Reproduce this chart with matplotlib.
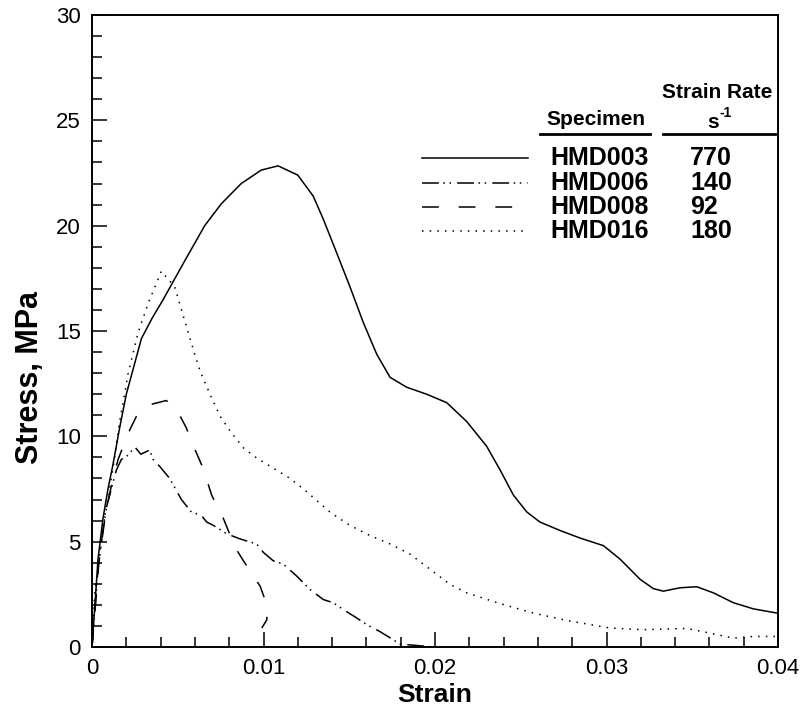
import matplotlib
matplotlib.use("Agg")
import matplotlib.pyplot as plt
from matplotlib.lines import Line2D

plt.rcParams['font.family'] = ['Liberation Sans', 'DejaVu Sans']

# data
hmd003_strain = [0, 0.00035, 0.00064, 0.00093, 0.00122, 0.00161, 0.002, 0.0025, 0.00288, 0.0035,
                 0.00414, 0.0054, 0.00657, 0.00754, 0.0087, 0.00987, 0.01085, 0.012, 0.0129, 0.01349,
                 0.01427, 0.01504, 0.01582, 0.0166, 0.01738, 0.01835, 0.01951, 0.02068, 0.02185, 0.02301,
                 0.02379, 0.02457, 0.02535, 0.02612, 0.02729, 0.02846, 0.02982, 0.03079, 0.03196, 0.03273,
                 0.03331, 0.03429, 0.03526, 0.03623, 0.0374, 0.03856, 0.04]
hmd003_stress = [0, 4.17, 6.1, 7.5, 8.65, 10.4, 12.0, 13.5, 14.64, 15.6,
                 16.48, 18.32, 20.0, 21.04, 22.0, 22.64, 22.84, 22.4, 21.4, 20.3,
                 18.7, 17.1, 15.4, 13.9, 12.8, 12.33, 12.0, 11.6, 10.7, 9.53,
                 8.41, 7.21, 6.41, 5.93, 5.53, 5.17, 4.81, 4.17, 3.21, 2.77,
                 2.65, 2.81, 2.86, 2.57, 2.1, 1.81, 1.6]

hmd006_strain = [0, 0.0004, 0.0008, 0.00142, 0.00171, 0.0021, 0.00249, 0.00285, 0.00336, 0.00356,
                 0.00395, 0.00453, 0.00521, 0.00579, 0.00637, 0.00669, 0.00708, 0.00786, 0.00863, 0.0096,
                 0.00999, 0.01057, 0.01116, 0.01193, 0.01271, 0.01349, 0.01407, 0.01466, 0.01543, 0.01602,
                 0.01679, 0.01757, 0.01796, 0.0199]
hmd006_stress = [0, 4.2, 6.5, 8.4, 8.9, 9.1, 9.5, 9.15, 9.35, 8.9,
                 8.57, 8.0, 7.0, 6.41, 6.25, 5.93, 5.77, 5.37, 5.13, 4.89,
                 4.49, 4.09, 3.93, 3.37, 2.73, 2.25, 2.1, 1.77, 1.38, 1.06,
                 0.73, 0.34, 0.14, 0.0]

hmd008_strain = [0, 0.0004, 0.0008, 0.00122, 0.00152, 0.0019, 0.0022, 0.00268, 0.00336, 0.00433,
                 0.00492, 0.0055, 0.00579, 0.00647, 0.00698, 0.00766, 0.00834, 0.00883, 0.00941, 0.0098,
                 0.01015, 0.0102, 0.0099]
hmd008_stress = [0, 4.0, 6.4, 8.0, 8.9, 9.7, 10.3, 11.1, 11.5, 11.7,
                 11.3, 10.4, 9.77, 8.5, 7.2, 6.1, 4.73, 4.09, 3.37, 2.89,
                 2.1, 1.3, 0.9]

hmd016_strain = [0, 0.00016, 0.00045, 0.00074, 0.00103, 0.00132, 0.00161, 0.0019, 0.0021, 0.00268,
                 0.00327, 0.00404, 0.00482, 0.0054, 0.00599, 0.0063, 0.00688, 0.00746, 0.00805, 0.00883,
                 0.0096, 0.01057, 0.01155, 0.01252, 0.01388, 0.01504, 0.01621, 0.01738, 0.01854, 0.01971,
                 0.02087, 0.02185, 0.02379, 0.02573, 0.02768, 0.0302, 0.03215, 0.03467, 0.03584, 0.0374,
                 0.03856, 0.04]
hmd016_stress = [0, 2.6, 4.3, 6.1, 7.5, 9.0, 10.7, 12.0, 12.96, 14.9,
                 16.3, 17.84, 17.1, 15.5, 13.9, 13.1, 12.0, 10.97, 10.25, 9.45,
                 8.97, 8.49, 8.0, 7.37, 6.4, 5.77, 5.29, 4.89, 4.41, 3.69,
                 2.97, 2.57, 2.06, 1.61, 1.26, 0.9, 0.82, 0.88, 0.69, 0.42,
                 0.5, 0.5]

specimens = ['HMD003', 'HMD006', 'HMD008', 'HMD016']
strain_rates = ['770', '140', '92', '180']
x_ticks = [0, 0.01, 0.02, 0.03, 0.04]
x_labels = ['0', '0.01', '0.02', '0.03', '0.04']
y_ticks = [0, 5, 10, 15, 20, 25, 30]

styles = ['-', (0, (11, 3, 1, 3, 1, 4)), (0, (11, 13)), (0, (1, 4))]
series = [(hmd003_strain, hmd003_stress), (hmd006_strain, hmd006_stress),
          (hmd008_strain, hmd008_stress), (hmd016_strain, hmd016_stress)]

fig = plt.figure(figsize=(8.05, 7.16), dpi=100)
ax = fig.add_axes([0.1143, 0.0964, 0.8522, 0.8826])

for (sx, sy), ls in zip(series, styles):
    ax.plot(sx, sy, color='black', lw=1.1, linestyle=ls)

ax.set_xlim(0, 0.04)
ax.set_ylim(0, 30)
ax.set_xticks(x_ticks)
ax.set_xticklabels(x_labels)
ax.set_yticks(y_ticks)
ax.set_xticks([i * 0.002 for i in range(21)], minor=True)
ax.set_yticks(list(range(31)), minor=True)
ax.tick_params(which='both', direction='in', top=False, right=False, width=1.1, labelsize=16)
ax.tick_params(which='major', length=11)
ax.tick_params(which='minor', length=7)
ax.tick_params(axis='x', pad=8)
ax.tick_params(axis='y', pad=8)
for sp in ax.spines.values():
    sp.set_linewidth(1.4)

ax.set_xlabel('Strain', fontsize=19, fontweight='bold', labelpad=3)
ax.set_ylabel('Stress, MPa', fontsize=22, fontweight='bold')
ax.yaxis.set_label_coords(-0.068, 0.426)

# table-style legend
row_y = [0.774, 0.734, 0.696, 0.658]
for yy, ls, name, rate in zip(row_y, styles, specimens, strain_rates):
    ax.add_line(Line2D([0.481, 0.636], [yy, yy], transform=ax.transAxes,
                       color='black', lw=1.1, linestyle=ls))
    ax.text(0.668, yy, name, transform=ax.transAxes, fontsize=18, fontweight='bold',
            va='center', ha='left')
    ax.text(0.872, yy, rate, transform=ax.transAxes, fontsize=18, fontweight='bold',
            va='center', ha='left')

ax.text(0.735, 0.834, 'Specimen', transform=ax.transAxes, fontsize=15, fontweight='bold',
        ha='center', va='center')
ax.text(0.912, 0.877, 'Strain Rate', transform=ax.transAxes, fontsize=15, fontweight='bold',
        ha='center', va='center')
ax.text(0.905, 0.830, 's', transform=ax.transAxes, fontsize=15, fontweight='bold',
        ha='center', va='center')
ax.text(0.914, 0.845, '-1', transform=ax.transAxes, fontsize=10, fontweight='bold',
        ha='left', va='center')
ax.add_line(Line2D([0.653, 0.813], [0.812, 0.812], transform=ax.transAxes, color='black', lw=2))
ax.add_line(Line2D([0.832, 0.995], [0.812, 0.812], transform=ax.transAxes, color='black', lw=2))

fig.savefig('out.png', dpi=100)
